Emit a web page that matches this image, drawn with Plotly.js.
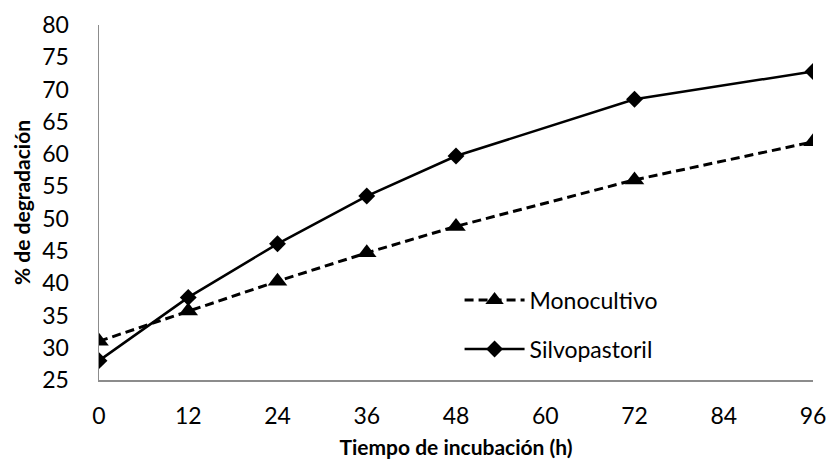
<!DOCTYPE html>
<html>
<head>
<meta charset="utf-8">
<script src="https://cdn.plot.ly/plotly-3.0.1.min.js"></script>
<style>
  body { margin: 0; background: #fff; }
  #chart { width: 829px; height: 466px; }
</style>
</head>
<body>
<div id="chart"></div>
<script>
// Degradación por tiempo de incubación

var horas = [0, 12, 24, 36, 48, 72, 96];
var monocultivo = [31.0, 35.7, 40.3, 44.7, 48.8, 56.0, 61.9];
var silvopastoril = [28.0, 37.8, 46.1, 53.5, 59.7, 68.5, 72.8];
var xTicks = [0, 12, 24, 36, 48, 60, 72, 84, 96];

var traceMono = {
    x: horas,
    y: monocultivo,
    type: 'scatter',
    mode: 'lines+markers',
    name: 'Monocultivo',
    legend: 'legend',
    line: { color: '#000', width: 3, dash: '9px,5px' },
    marker: { symbol: 'triangle-up', size: 17, color: '#000' }
};

var traceSilvo = {
    x: horas,
    y: silvopastoril,
    type: 'scatter',
    mode: 'lines+markers',
    name: 'Silvopastoril',
    legend: 'legend2',
    line: { color: '#000', width: 2.5 },
    marker: { symbol: 'diamond', size: 13, color: '#000' }
};

var legendBase = {
    x: 0.505,
    xanchor: 'left',
    yanchor: 'middle',
    bgcolor: 'rgba(0,0,0,0)',
    font: { size: 23 },
    itemwidth: 60
};

var layout = {
    width: 829,
    height: 466,
    margin: { l: 99, r: 16, t: 25, b: 86 },
    paper_bgcolor: '#fff',
    plot_bgcolor: '#fff',
    font: { family: 'Lato, "Open Sans", sans-serif', size: 23, color: '#000' },
    showlegend: true,
    legend: Object.assign({}, legendBase, { y: 0.225 }),
    legend2: Object.assign({}, legendBase, { y: 0.087 }),
    xaxis: {
        range: [0, 96],
        tickvals: xTicks,
        showgrid: false,
        zeroline: false,
        showline: true,
        linecolor: '#8c8c8c',
        linewidth: 1.5,
        ticks: '',
        ticklabelstandoff: 15,
        title: {
            text: '<b>Tiempo de incubación (h)</b>',
            font: { size: 21 },
            standoff: 12
        }
    },
    yaxis: {
        range: [25, 80],
        dtick: 5,
        showgrid: false,
        zeroline: false,
        showline: true,
        linecolor: '#8c8c8c',
        linewidth: 1.5,
        ticks: '',
        ticklabelstandoff: 24,
        title: {
            text: '<b>% de degradación</b>',
            font: { size: 21 },
            standoff: 6
        }
    }
};

Plotly.newPlot('chart', [traceMono, traceSilvo], layout, { staticPlot: true });
</script>
</body>
</html>
